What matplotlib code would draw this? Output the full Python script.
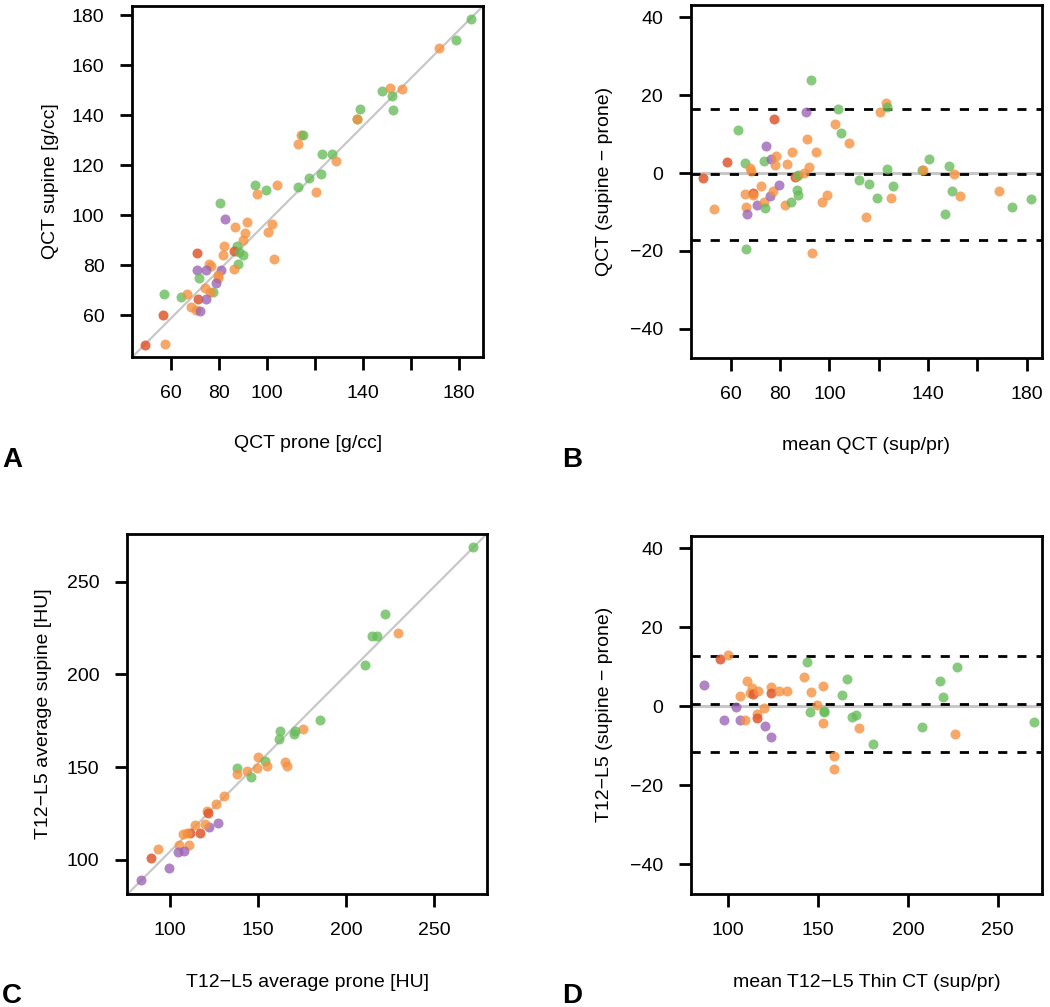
#!/usr/bin/env python3
import matplotlib

matplotlib.use("Agg")
import matplotlib.pyplot as plt


# group colours: g = green, o = orange, r = red, p = purple
COLORS = {"g": "#66bb58", "o": "#f5903e", "r": "#e0582f", "p": "#9a62b5"}
ALPHAS = {"g": 0.78, "o": 0.78, "r": 0.85, "p": 0.78}

# panel A: QCT prone vs supine
QCT_PRONE = [185.1, 178.6, 171.4, 147.8, 151.0, 156.3, 152.1, 152.4, 138.5, 137.4, 137.4,
             114.0, 114.9, 112.8, 122.8, 127.2, 128.5, 122.6, 117.6, 112.9, 120.4, 104.2,
             95.1, 99.4, 95.7, 80.4, 82.5, 91.7, 86.5, 101.9, 100.4, 91.0, 89.9, 87.5,
             86.4, 88.5, 90.0, 82.2, 81.5, 70.7, 102.9, 88.1, 86.4, 75.8, 76.8, 70.7,
             74.4, 81.0, 71.7, 79.7, 79.6, 78.9, 74.0, 77.5, 76.4, 57.1, 64.3, 66.8,
             71.4, 74.7, 68.3, 70.3, 71.9, 56.7, 49.3, 57.4]
QCT_SUPINE = [178.5, 169.9, 166.7, 149.7, 150.8, 150.4, 147.5, 142.0, 142.4, 138.4, 138.4,
              132.1, 132.1, 128.5, 124.3, 124.4, 121.7, 116.3, 114.8, 111.3, 109.1, 112.1,
              111.9, 109.9, 108.5, 104.8, 98.4, 97.2, 95.2, 96.3, 93.2, 92.9, 90.1, 87.5,
              85.5, 85.2, 84.0, 87.7, 83.9, 84.7, 82.4, 80.4, 78.3, 80.4, 79.5, 77.9,
              77.9, 78.0, 74.8, 76.0, 74.7, 72.8, 70.7, 69.3, 69.3, 68.5, 67.1, 68.4,
              66.5, 66.5, 63.3, 62.0, 61.5, 59.9, 48.1, 48.4]
QCT_GROUP = ["g", "g", "o", "g", "o", "o", "g", "g", "g", "g", "o",
             "o", "g", "o", "g", "g", "o", "g", "g", "g", "o", "o",
             "g", "g", "o", "g", "p", "o", "o", "o", "o", "o", "o", "g",
             "r", "g", "g", "o", "o", "r", "o", "g", "o", "o", "o", "p",
             "p", "p", "g", "o", "o", "p", "o", "g", "o", "g", "g", "o",
             "r", "p", "o", "o", "p", "r", "r", "o"]

# panel B: Bland-Altman QCT
QCT_MEAN = [48.6, 53.1, 58.4, 62.8, 65.8, 67.8, 68.1, 65.8, 69.2, 68.9, 66.2, 66.8, 66.2,
            72.4, 70.5, 73.5, 73.9, 73.4, 74.2, 76.4, 75.9, 77.3, 77.7, 78.2, 78.0, 79.5,
            82.2, 84.3, 82.8, 85.0, 86.1, 86.8, 87.4, 87.0, 87.2, 89.9, 90.4, 91.1, 91.9,
            92.7, 94.5, 96.9, 99.2, 92.8, 102.2, 103.5, 104.7, 108.1, 112.0, 114.7, 116.1,
            119.5, 120.5, 123.0, 123.5, 123.4, 125.0, 125.8, 137.4, 138.0, 140.4, 147.0,
            148.6, 149.7, 150.7, 153.1, 168.8, 174.1, 181.6]
QCT_DIFF = [-1.2, -9.2, 2.9, 11.2, 2.5, 1.4, 0.6, -5.3, -5.1, -5.7, -8.7, -10.5, -19.6,
            -3.3, -8.2, -7.4, -9.1, 3.1, 6.9, 3.7, -5.9, -4.5, 14.0, 4.4, 2.1, -3.1,
            -8.1, -7.5, 2.3, 5.5, -1.1, -0.8, -0.5, -4.4, -5.7, 0.1, 15.7, 8.7, 1.6,
            23.9, 5.5, -7.5, -5.7, -20.6, 12.5, 16.4, 10.3, 7.8, -1.7, -11.3, -2.9,
            -6.5, 15.6, 18.1, 16.9, 1.0, -6.5, -3.2, 0.7, 0.9, 3.6, -10.4,
            1.9, -4.5, -0.2, -5.9, -4.7, -8.7, -6.7]
QCT_BA_GROUP = ["r", "o", "r", "g", "g", "o", "o", "o", "r", "o", "o", "p", "g",
                "o", "p", "o", "g", "g", "p", "p", "p", "o", "r", "o", "o", "p",
                "o", "g", "o", "o", "r", "o", "g", "g", "g", "o", "p", "o", "o",
                "g", "o", "o", "o", "o", "o", "g", "g", "o", "g", "o", "g",
                "g", "o", "o", "g", "g", "o", "g", "g", "o", "g", "g",
                "g", "g", "o", "o", "o", "g", "g"]
QCT_LIMITS = [16.5, -0.2, -17.2]

# panel C: T12-L5 prone vs supine
HU_PRONE = [272.2, 222.3, 229.4, 214.6, 217.8, 210.6, 185.0, 175.6, 171.2, 170.5, 162.3,
            162.1, 165.2, 166.7, 150.2, 153.8, 154.9, 149.2, 143.9, 137.9, 138.3, 146.2,
            130.5, 126.1, 121.2, 121.4, 127.3, 122.3, 119.7, 114.4, 117.2, 111.4, 109.8,
            107.2, 111.0, 105.1, 104.5, 108.1, 93.2, 89.2, 99.2, 83.5]
HU_SUPINE = [268.5, 232.4, 222.5, 220.7, 220.7, 205.3, 175.6, 170.4, 169.3, 167.9, 169.3,
             165.2, 153.0, 150.7, 155.7, 153.4, 150.7, 149.8, 148.1, 149.4, 146.2, 144.7,
             134.5, 130.2, 126.4, 125.1, 119.9, 117.8, 119.4, 118.7, 114.6, 114.7, 114.4,
             113.8, 108.1, 108.3, 104.5, 104.7, 106.1, 101.3, 95.9, 89.2]
HU_GROUP = ["g", "g", "o", "g", "g", "g", "g", "o", "g", "g", "g",
            "g", "o", "o", "o", "g", "o", "o", "o", "g", "o", "g",
            "o", "o", "o", "r", "p", "p", "o", "o", "r", "r", "o",
            "o", "o", "o", "p", "p", "o", "r", "p", "p"]

# panel D: Bland-Altman T12-L5
HU_MEAN = [86.4, 95.2, 99.6, 97.6, 104.3, 106.5, 109.5, 106.7, 110.6, 112.1, 113.0, 113.6,
           116.7, 115.8, 116.2, 119.9, 120.2, 123.9, 123.6, 123.6, 128.2, 132.5, 142.3,
           143.6, 146.2, 145.3, 149.6, 152.9, 152.9, 153.1, 153.5, 159.0, 158.7, 163.5,
           165.9, 169.1, 171.3, 173.0, 180.6, 207.9, 217.9, 219.4, 226.0, 227.5, 270.4]
HU_DIFF = [5.3, 12.0, 12.9, -3.5, -0.3, -3.4, -3.5, 2.7, 6.3, 3.4, 4.6, 3.0,
           3.8, -2.1, -3.0, -0.4, -5.0, -7.7, 4.9, 3.4, 3.8, 3.9, 7.5,
           11.1, 3.5, -1.4, 0.2, 5.2, -4.3, -1.1, -1.4, -12.6, -15.9, 2.9,
           6.8, -2.7, -2.3, -5.6, -9.7, -5.4, 6.3, 2.4, -7.0, 10.0, -3.9]
HU_BA_GROUP = ["p", "r", "o", "p", "p", "p", "o", "o", "o", "o", "o", "r",
               "o", "o", "r", "o", "p", "p", "o", "r", "o", "o", "o",
               "g", "o", "g", "o", "o", "o", "g", "g", "o", "o", "g",
               "g", "g", "g", "o", "g", "g", "g", "g", "o", "g", "g"]
HU_LIMITS = [12.75, 0.6, -11.65]


def scatter_groups(ax, xs, ys, groups):
    for x, y, g in zip(xs, ys, groups):
        ax.scatter(x, y, s=52, color=COLORS[g], alpha=ALPHAS[g], linewidths=0, zorder=3)


def style_axes(ax):
    for sp in ax.spines.values():
        sp.set_linewidth(2.0)
    ax.tick_params(direction="out", length=9, width=2, labelsize=14, pad=11)


def identity_panel(ax, xs, ys, groups, xlim, ylim):
    ax.plot([0, 1], [0, 1], transform=ax.transAxes, color="#c8c8c8", lw=1.6, zorder=2)
    scatter_groups(ax, xs, ys, groups)
    ax.set_xlim(*xlim)
    ax.set_ylim(*ylim)


def ba_panel(ax, xs, ys, groups, limits, xlim):
    ax.axhline(0, color="#c8c8c8", lw=2.2, zorder=1)
    for v in limits:
        ax.axhline(v, color="black", lw=2.0, dashes=(3.3, 3.6), zorder=2)
    scatter_groups(ax, xs, ys, groups)
    ax.set_xlim(*xlim)
    ax.set_ylim(-47.6, 43.2)
    ax.set_yticks([-40, -20, 0, 20, 40])
    ax.set_yticklabels(["\u221240", "\u221220", "0", "20", "40"])


def main():
    plt.rcParams["font.family"] = ["Liberation Sans", "DejaVu Sans"]
    fig = plt.figure(figsize=(10.5, 10.07), dpi=100)
    W, H = 1050.0, 1007.0

    def add(l, r, t, b):
        return fig.add_axes([l / W, 1 - b / H, (r - l) / W, (b - t) / H])

    ax_a = add(132.3, 483.0, 6.0, 357.0)
    ax_b = add(690.7, 1042.3, 5.0, 358.3)
    ax_c = add(127.3, 486.7, 534.0, 894.3)
    ax_d = add(690.7, 1042.0, 535.7, 894.0)

    identity_panel(ax_a, QCT_PRONE, QCT_SUPINE, QCT_GROUP, (43.9, 189.9), (43.3, 183.6))
    ax_a.set_xticks([60, 80, 100, 120, 140, 160, 180])
    ax_a.set_xticklabels(["60", "80", "100", "", "140", "", "180"])
    ax_a.set_yticks([60, 80, 100, 120, 140, 160, 180])

    ba_panel(ax_b, QCT_MEAN, QCT_DIFF, QCT_BA_GROUP, QCT_LIMITS, (43.8, 186.3))
    ax_b.set_xticks([60, 80, 100, 120, 140, 160, 180])
    ax_b.set_xticklabels(["60", "80", "100", "", "140", "", "180"])

    identity_panel(ax_c, HU_PRONE, HU_SUPINE, HU_GROUP, (75.8, 279.9), (81.5, 275.7))
    ax_c.set_xticks([100, 150, 200, 250])
    ax_c.set_yticks([100, 150, 200, 250])

    ba_panel(ax_d, HU_MEAN, HU_DIFF, HU_BA_GROUP, HU_LIMITS, (79.1, 274.7))
    ax_d.set_xticks([100, 150, 200, 250])

    labels = [
        (ax_a, "QCT prone [g/cc]", "QCT supine [g/cc]"),
        (ax_b, "mean QCT (sup/pr)", "QCT (supine \u2212 prone)"),
        (ax_c, "T12\u2212L5 average prone [HU]", "T12\u2212L5 average supine [HU]"),
        (ax_d, "mean T12\u2212L5 Thin CT (sup/pr)", "T12\u2212L5 (supine \u2212 prone)"),
    ]
    for ax, xl, yl in labels:
        style_axes(ax)
        ax.set_xlabel(xl, fontsize=14)
        ax.set_ylabel(yl, fontsize=14)
        ax.xaxis.set_label_coords(0.5, -0.222)
        ax.yaxis.set_label_coords(-0.21, 0.5)

    for ax in (ax_b, ax_d):
        ax.yaxis.set_label_coords(-0.222, 0.5)

    for letter, x, y in [("A", 2, 460), ("B", 562, 460), ("C", 2, 996), ("D", 562, 996)]:
        fig.text(x / W, 1 - y / H, letter, fontsize=20, fontweight="bold", va="center", ha="left")

    fig.savefig("out.png", dpi=100, facecolor="white")
    plt.close(fig)


if __name__ == "__main__":
    main()
